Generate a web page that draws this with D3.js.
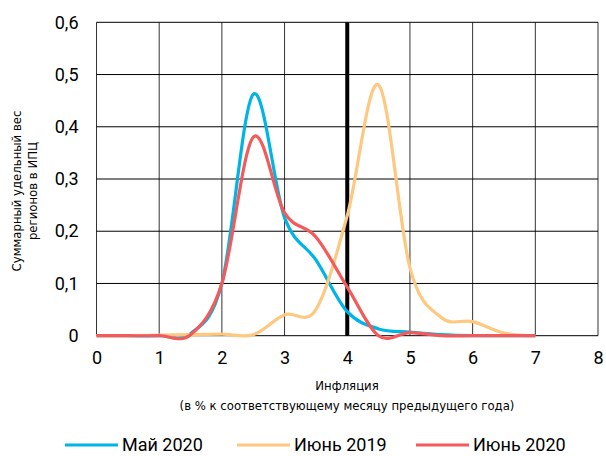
<!DOCTYPE html>
<html>
<head>
<meta charset="utf-8">
<script src="https://cdn.jsdelivr.net/npm/d3@7"></script>
<style>
  body { margin: 0; background: #fff; }
  svg { display: block; }
</style>
</head>
<body>
<svg id="chart" width="606" height="456"></svg>
<script>
// inflation, % yoy (points every 0.5 p.p.)
const xs = [0, 0.5, 1, 1.5, 2, 2.5, 3, 3.5, 4, 4.5, 5, 5.5, 6, 6.5, 7]
const may2020 = [0, 0, 0, 0.004, 0.1, 0.462, 0.226, 0.145, 0.046, 0.013, 0.007, 0.002, 0, 0, 0]
const jun2019 = [0, 0, 0.001, 0.002, 0.003, 0.002, 0.04, 0.05, 0.23, 0.48, 0.13, 0.035, 0.027, 0.005, 0]
const jun2020 = [0, 0, 0, 0.002, 0.1, 0.38, 0.235, 0.189, 0.093, 0, 0.006, 0, 0, 0, 0]

const xTicks = [0, 1, 2, 3, 4, 5, 6, 7, 8]
const yTicks = [0, 0.1, 0.2, 0.3, 0.4, 0.5, 0.6]
const target = 4

const seriesNames = ["Май 2020", "Июнь 2019", "Июнь 2020"]
const seriesData = [may2020, jun2019, jun2020]
const colors = ["#00b4e6", "#ffc880", "#f45a5a"]

const svg = d3.select("#chart")
const font = "Roboto, 'Noto Sans', sans-serif"
const narrow = "'Liberation Sans Narrow', 'DejaVu Sans Condensed', Roboto, sans-serif"

const x = d3.scaleLinear().domain([0, 8]).range([96.5, 598])
const y = d3.scaleLinear().domain([0, 0.6]).range([335.7, 22.3])

// grid
svg.append("g")
    .selectAll("line")
    .data(xTicks)
    .join("line")
    .attr("x1", d => x(d)).attr("x2", d => x(d))
    .attr("y1", y(0)).attr("y2", y(0.6))
    .attr("stroke", "#333")
    .attr("stroke-width", 1)

svg.append("g")
    .selectAll("line")
    .data(yTicks)
    .join("line")
    .attr("x1", x(0)).attr("x2", x(8))
    .attr("y1", d => y(d)).attr("y2", d => y(d))
    .attr("stroke", "#000")
    .attr("stroke-width", 1)

// target line
svg.append("line")
    .attr("x1", x(target)).attr("x2", x(target))
    .attr("y1", y(0)).attr("y2", y(0.6))
    .attr("stroke", "#000")
    .attr("stroke-width", 4)

// axes labels
const xAxis = d3.axisBottom(x).tickValues(xTicks).tickSize(0).tickPadding(16)
    .tickFormat(d => d)
svg.append("g")
    .attr("transform", `translate(0, ${y(0)})`)
    .call(xAxis)
    .call(g => g.select(".domain").remove())
    .selectAll("text")
    .attr("font-family", font)
    .attr("font-size", 18)
    .attr("fill", "#000")

const yAxis = d3.axisLeft(y).tickValues(yTicks).tickSize(0).tickPadding(18)
    .tickFormat(d => d3.format(".1f")(d).replace(".", ",").replace(/^0,0$/, "0"))
svg.append("g")
    .attr("transform", `translate(${x(0)}, 0)`)
    .call(yAxis)
    .call(g => g.select(".domain").remove())
    .selectAll("text")
    .attr("font-family", font)
    .attr("font-size", 18)
    .attr("fill", "#000")

// curves
const line = d3.line()
    .x((d, i) => x(xs[i]))
    .y(d => y(d))
    .curve(d3.curveCardinal.tension(0))

svg.append("g")
    .selectAll("path")
    .data(seriesData)
    .join("path")
    .attr("d", d => line(d))
    .attr("fill", "none")
    .attr("stroke", (d, i) => colors[i])
    .attr("stroke-width", 3.2)

// titles
svg.append("text")
    .attr("x", 347).attr("y", 390)
    .attr("text-anchor", "middle")
    .attr("font-family", narrow)
    .attr("font-size", 13)
    .text("Инфляция")
svg.append("text")
    .attr("x", 347).attr("y", 410)
    .attr("text-anchor", "middle")
    .attr("font-family", narrow)
    .attr("font-size", 13)
    .text("(в % к соответствующему месяцу предыдущего года)")

const yt = svg.append("text")
    .attr("transform", "translate(21, 191) rotate(-90)")
    .attr("text-anchor", "middle")
    .attr("font-family", narrow)
    .attr("font-size", 13)
yt.append("tspan").attr("x", 0).attr("y", 0).text("Суммарный удельный вес")
yt.append("tspan").attr("x", 0).attr("y", 16).text("регионов в ИПЦ")

// legend
const legendX = [65, 237, 416]
const lg = svg.append("g")
    .selectAll("g")
    .data(seriesNames)
    .join("g")
    .attr("transform", (d, i) => `translate(${legendX[i]}, 445)`)
lg.append("line")
    .attr("x1", 0).attr("x2", 53)
    .attr("stroke", (d, i) => colors[i])
    .attr("stroke-width", 3.2)
lg.append("text")
    .attr("x", 57).attr("y", 6)
    .attr("font-family", font)
    .attr("font-size", 18)
    .text(d => d)
</script>
</body>
</html>
